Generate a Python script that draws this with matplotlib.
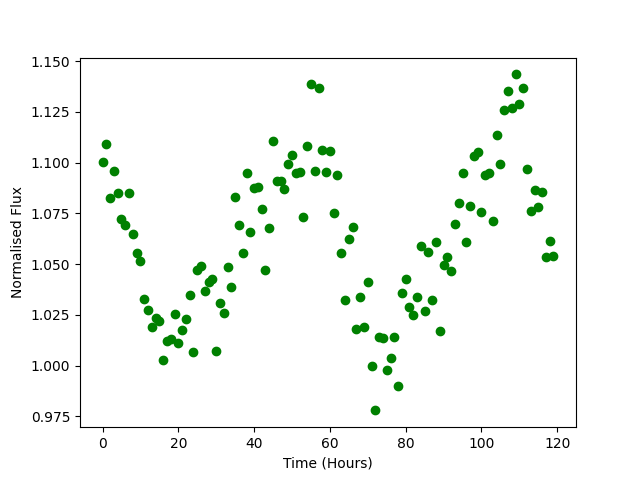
import matplotlib
matplotlib.use("Agg")
import matplotlib.pyplot as plt
import numpy as np

hours = np.arange(120)
flux = [
    1.1005, 1.109, 1.0825, 1.096, 1.085, 1.0725, 1.0695, 1.085, 1.065, 1.0555,
    1.0515, 1.033, 1.0275, 1.019, 1.0235, 1.022, 1.003, 1.012, 1.013, 1.0255,
    1.011, 1.0175, 1.023, 1.035, 1.007, 1.047, 1.049, 1.037, 1.041, 1.0425,
    1.0075, 1.031, 1.026, 1.0485, 1.039, 1.083, 1.0695, 1.0555, 1.095, 1.066,
    1.0875, 1.088, 1.077, 1.047, 1.068, 1.1105, 1.091, 1.091, 1.087, 1.0995,
    1.104, 1.095, 1.0955, 1.0735, 1.108, 1.139, 1.096, 1.137, 1.1065, 1.0955,
    1.106, 1.075, 1.094, 1.0555, 1.0325, 1.0625, 1.0685, 1.018, 1.034, 1.019,
    1.041, 1.000, 0.978, 1.014, 1.0135, 0.998, 1.004, 1.014, 0.990, 1.036,
    1.0425, 1.029, 1.025, 1.034, 1.059, 1.027, 1.056, 1.0325, 1.061, 1.017,
    1.0495, 1.0535, 1.0465, 1.070, 1.080, 1.095, 1.061, 1.0785, 1.1035, 1.1055,
    1.0755, 1.094, 1.095, 1.0715, 1.1135, 1.0995, 1.126, 1.1355, 1.127, 1.1435,
    1.129, 1.137, 1.097, 1.076, 1.0865, 1.078, 1.0855, 1.0535, 1.0615, 1.054,
]

fig, ax = plt.subplots(figsize=(6.4, 4.8), dpi=100)
ax.plot(hours, flux, 'o', color='green')
ax.set_xlabel("Time (Hours)")
ax.set_ylabel("Normalised Flux")
fig.savefig("out.png")
